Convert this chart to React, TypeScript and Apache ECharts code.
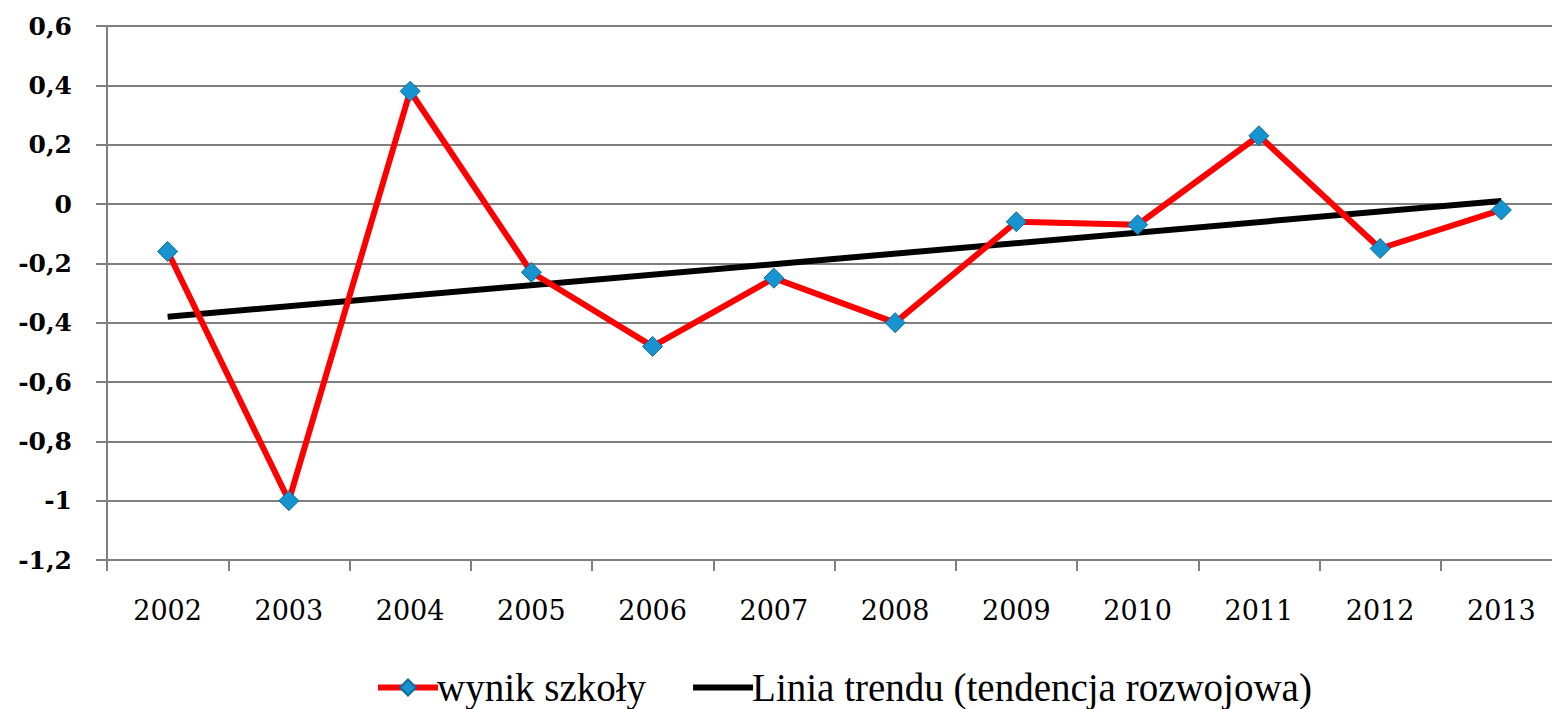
import React, { useEffect, useRef } from "react";
import * as echarts from "echarts";

const years = ["2002", "2003", "2004", "2005", "2006", "2007", "2008", "2009", "2010", "2011", "2012", "2013"];
const schoolScores = [-0.16, -1.0, 0.38, -0.23, -0.48, -0.25, -0.4, -0.06, -0.07, 0.23, -0.15, -0.02];
const trendStart = -0.38;
const trendEnd = 0.01;
const seriesNames = ["wynik szkoły", "Linia trendu (tendencja rozwojowa)"];

export default function App() {
  const ref = useRef<HTMLDivElement>(null);
  useEffect(() => {
    if (!ref.current) return;
    const chart = echarts.init(ref.current, undefined, { renderer: "svg" });
    const serif = "'DejaVu Serif', 'Liberation Serif', serif";
    const legendFont = "'Liberation Serif', serif";
    chart.setOption({
      animation: false,
      backgroundColor: "#ffffff",
      grid: {
        left: 107,
        top: 26,
        height: 534,
        width: 1455,
        containLabel: false,
        outerBoundsMode: "none",
      },
      legend: {
        bottom: -3,
        left: 370,
        itemWidth: 60,
        itemHeight: 20,
        itemGap: 44,
        lineStyle: { width: 6 },
        textStyle: { fontFamily: legendFont, fontSize: 39, color: "#000", padding: [0, 0, 0, -6] },
        data: [
          { name: seriesNames[0] },
          { name: seriesNames[1], itemStyle: { opacity: 0 } },
        ],
      },
      xAxis: {
        type: "category",
        data: years,
        boundaryGap: true,
        axisLine: { show: true, onZero: false, lineStyle: { color: "#7f7f7f", width: 2 } },
        axisTick: { show: true, length: 11, lineStyle: { color: "#7f7f7f", width: 2 } },
        axisLabel: { margin: 37, fontFamily: serif, fontSize: 27, color: "#000" },
        splitLine: { show: false },
      },
      yAxis: {
        type: "value",
        min: -1.2,
        max: 0.6,
        interval: 0.2,
        axisLine: { show: true, lineStyle: { color: "#7f7f7f", width: 2 } },
        axisTick: { show: true, length: 11, lineStyle: { color: "#7f7f7f", width: 2 } },
        axisLabel: {
          margin: 35,
          fontFamily: serif,
          fontSize: 25,
          fontWeight: "bold",
          color: "#000",
          formatter: (v: number) => {
            const r = Math.round(v * 10) / 10;
            if (r === 0) return "0";
            if (Number.isInteger(r)) return String(r);
            return String(r).replace(".", ",");
          },
        },
        splitLine: { show: true, lineStyle: { color: "#7f7f7f", width: 2 } },
      },
      series: [
        {
          name: seriesNames[0],
          type: "line",
          data: schoolScores,
          symbol: "diamond",
          symbolSize: 20,
          z: 3,
          lineStyle: { color: "#ff0000", width: 6 },
          itemStyle: { color: "#1794d0", borderColor: "#0d6d9c", borderWidth: 1 },
        },
        {
          name: seriesNames[1],
          type: "line",
          data: [[0, trendStart], [11, trendEnd]],
          symbol: "none",
          z: 2,
          lineStyle: { color: "#000000", width: 6 },
          itemStyle: { color: "#000000" },
        },
      ],
    });
    return () => chart.dispose();
  }, []);
  return <div ref={ref} style={{ position: "fixed", left: 0, top: 0, width: 1552, height: 709 }} />;
}
